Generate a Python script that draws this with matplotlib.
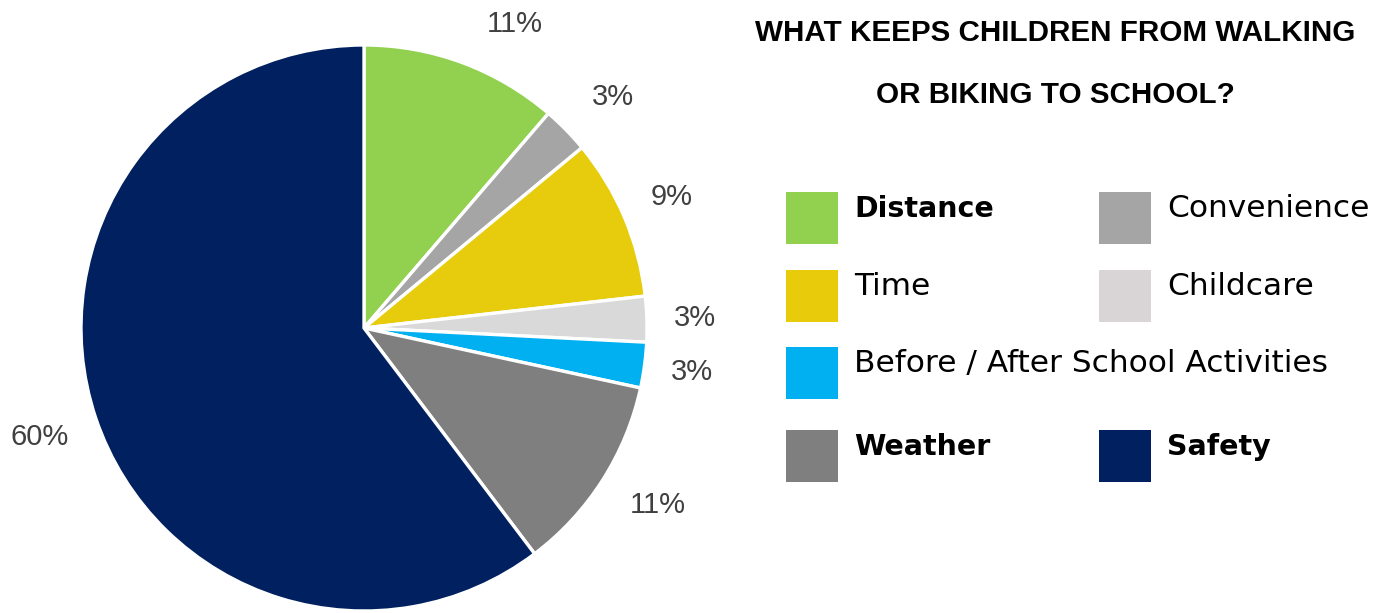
import matplotlib
matplotlib.use("Agg")
import numpy as np
import matplotlib.pyplot as plt
from matplotlib.patches import Rectangle

categories = ["Distance", "Convenience", "Time", "Childcare",
              "Before / After School Activities", "Weather", "Safety"]
values = [11.3, 2.7, 9.2, 2.6, 2.6, 11.3, 60.3]
pie_colors = ["#92D050", "#A5A5A5", "#E6CC0C", "#D9D9D9", "#00B0F0", "#7F7F7F", "#002060"]
legend_colors = ["#92D050", "#A5A5A5", "#E8CC0C", "#D9D5D6", "#00B0F0", "#7F7F7F", "#002060"]
legend_bold = [True, False, False, False, False, True, True]
title_lines = ["WHAT KEEPS CHILDREN FROM WALKING", "OR BIKING TO SCHOOL?"]
# small label nudges (degrees along the circle, radial distance)
label_angle_shift = [-6, -1.5, 0, 0, 0, 1.5, 0]
label_dist = [1.2, 1.2, 1.18, 1.17, 1.17, 1.21, 1.21]

W, H = 1395, 613
fig = plt.figure(figsize=(W / 100, H / 100), dpi=100)
fig.patch.set_facecolor("white")

def fx(x):
    return x / W

def fy(y):
    return 1 - y / H

# pie axes: center (364, 328), radius 283 px
cx, cy, r = 364, 328, 283
ax = fig.add_axes([fx(cx - r), fy(cy + r), 2 * r / W, 2 * r / H])
wedges, texts, autotexts = ax.pie(
    values, colors=pie_colors, startangle=90, counterclock=False,
    autopct=lambda p: f"{p:.0f}%", pctdistance=1.18,
    wedgeprops=dict(edgecolor="white", linewidth=2.4),
    textprops=dict(fontsize=21, color="#404040", family=["Liberation Sans", "DejaVu Sans"]),
)
for w, t, da, d in zip(wedges, autotexts, label_angle_shift, label_dist):
    ang = np.deg2rad((w.theta1 + w.theta2) / 2 + da)
    t.set_position((d * np.cos(ang), d * np.sin(ang)))
    t.set_ha("center")
    t.set_va("center")
ax.set_xlim(-1, 1)
ax.set_ylim(-1, 1)
ax.set_aspect("equal")
ax.axis("off")

# title
title_font = ["Liberation Sans", "DejaVu Sans"]
fig.text(fx(1055), fy(33), title_lines[0], ha="center", va="center",
         fontsize=21.3, fontweight="bold", family=title_font, color="black")
fig.text(fx(1055), fy(95), title_lines[1], ha="center", va="center",
         fontsize=21.3, fontweight="bold", family=title_font, color="black")

# legend (manual layout)
positions = [(0, 0), (1, 0), (0, 1), (1, 1), (0, 2), (0, 3), (1, 3)]
col_x = [786, 1099]
row_y = [192, 270, 347, 430]
sq = 52
for cat, col, bold, (c, rr) in zip(categories, legend_colors, legend_bold, positions):
    x0 = col_x[c]
    y0 = row_y[rr]
    fig.patches.append(Rectangle((fx(x0), fy(y0 + sq)), sq / W, sq / H,
                                 transform=fig.transFigure, facecolor=col,
                                 edgecolor="none"))
    fig.text(fx(x0 + 68), fy(y0 + 25), cat, ha="left", va="baseline",
             fontsize=20.5 if bold else 22.5,
             fontweight="bold" if bold else "normal",
             family=["DejaVu Sans"], color="black")

fig.savefig("out.png", dpi=100, facecolor="white")
